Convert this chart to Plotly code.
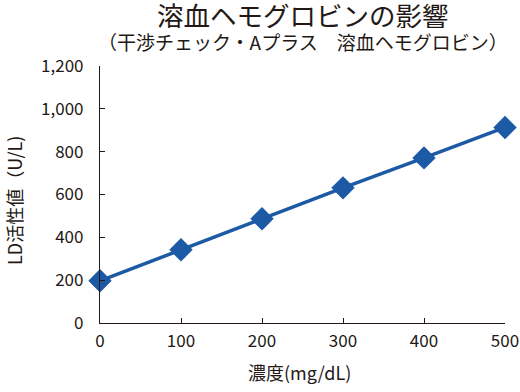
import plotly.graph_objects as go

conc = [0, 100, 200, 300, 400, 500]
ld_values = [197, 342, 487, 631, 771, 913]
y_ticks = [0, 200, 400, 600, 800, 1000, 1200]
x_ticks = [0, 100, 200, 300, 400, 500]

FONT = "Noto Sans CJK JP"
BLUE = "#1c5aa6"
INK = "#231815"

fig = go.Figure()
fig.add_trace(go.Scatter(
    x=conc, y=ld_values, mode="lines+markers",
    line=dict(color=BLUE, width=3.5),
    marker=dict(symbol="diamond", size=18, color=BLUE),
    cliponaxis=False, showlegend=False,
))

axis_common = dict(showline=True, linecolor=INK, linewidth=1.2, ticks="inside",
                   ticklen=5, tickcolor=INK, showgrid=False, zeroline=False,
                   tickfont=dict(size=17), ticklabeloverflow="allow", automargin=False)

fig.update_layout(
    width=520, height=392,
    margin=dict(l=100, r=15, t=66, b=69),
    paper_bgcolor="white", plot_bgcolor="white",
    font=dict(family=FONT, color=INK, size=15),
    xaxis=dict(range=[0, 500], tickvals=x_ticks, ticklabelstandoff=2, **axis_common),
    yaxis=dict(range=[0, 1200], tickvals=y_ticks, tickformat=",d",
               ticklabelstandoff=12, **axis_common),
    annotations=[
        dict(text="溶血ヘモグロビンの影響", x=303, y=14, showarrow=False,
             font=dict(size=26.5), height=28),
        dict(text="（干渉チェック・Aプラス　溶血ヘモグロビン）", x=303, y=41,
             showarrow=False, font=dict(size=19), height=22),
        dict(text="濃度(mg/dL)", x=299, y=372, showarrow=False, font=dict(size=18)),
        dict(text="LD活性値（U/L)", x=14, y=201, showarrow=False, textangle=-90,
             font=dict(size=18)),
    ],
)

# convert pixel positions of annotations to paper coordinates
pw, ph = 520 - 100 - 15, 392 - 66 - 69
for a in fig.layout.annotations:
    px, py = a.x, a.y
    a.xref = "paper"; a.yref = "paper"
    a.x = (px - 100) / pw
    a.y = (392 - 69 - py) / ph
    a.xanchor = "center"; a.yanchor = "middle"

fig.write_html("out.html")
